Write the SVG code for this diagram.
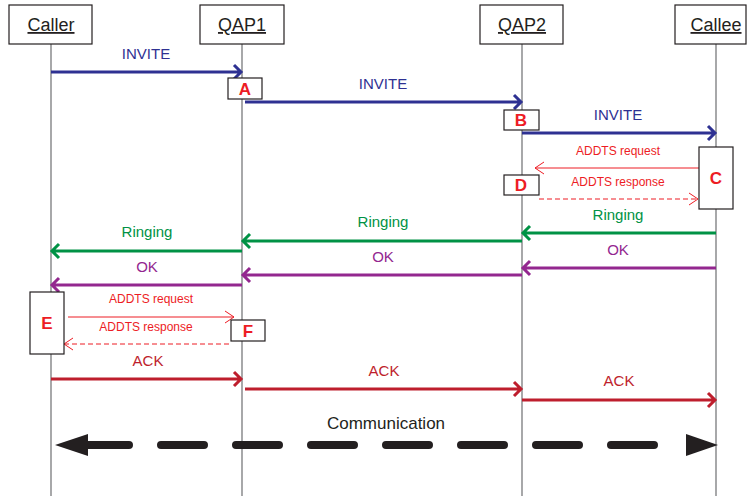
<svg xmlns="http://www.w3.org/2000/svg" width="748" height="496" viewBox="0 0 748 496">
<style>
text{font-family:"Liberation Sans",Arial,sans-serif;text-anchor:middle}
.hdr{fill:#fff;stroke:#231f20;stroke-width:1.2}
.ht{font-size:18px;text-decoration:underline;fill:#231f20}
.life{stroke:#6d6e71;stroke-width:1.2}
.box{fill:#fff;stroke:#231f20;stroke-width:1.2}
.lt{font-size:17px;font-weight:bold;fill:#ed1c24}
.inv{stroke:#2e3192;stroke-width:3;fill:none}
.ring{stroke:#009245;stroke-width:3;fill:none}
.ok{stroke:#93278f;stroke-width:3;fill:none}
.ack{stroke:#be1e2d;stroke-width:3;fill:none}
.add{stroke:#ed1c24;stroke-width:1;fill:none}
.dash{stroke-dasharray:5 3}
.tinv{font-size:15px;fill:#2e3192}
.tring{font-size:15px;fill:#009245}
.tok{font-size:15px;fill:#93278f}
.tack{font-size:15px;fill:#be1e2d}
.tadd{font-size:12px;fill:#ed1c24}
</style>
<g id="lifelines">
<line class="life" x1="51" y1="44" x2="51" y2="496"/>
<line class="life" x1="242" y1="44" x2="242" y2="496"/>
<line class="life" x1="522" y1="44" x2="522" y2="496"/>
<line class="life" x1="716" y1="44" x2="716" y2="496"/>
</g>
<g id="caller"><rect class="hdr" x="9" y="5" width="83" height="39"/><text class="ht" x="51" y="31">Caller</text></g>
<g id="qap1"><rect class="hdr" x="200" y="5" width="84" height="39"/><text class="ht" x="242" y="31">QAP1</text></g>
<g id="qap2"><rect class="hdr" x="480" y="5" width="83" height="39"/><text class="ht" x="522" y="31">QAP2</text></g>
<g id="callee"><rect class="hdr" x="675" y="5" width="71" height="39"/><text class="ht" x="716" y="31">Callee</text></g>
<g id="connectors">
<path class="inv" d="M51 72H241M234 65l7 7-7 7"/>
<path class="inv" d="M245 102H521M514 95l7 7-7 7"/>
<path class="inv" d="M522 133H715M708 126l7 7-7 7"/>
<path class="add" d="M699 168H535M544 162l-9 6 9 6"/>
<path class="add dash" d="M539 199H698"/>
<path class="add" d="M689 193l9 6-9 6"/>
<path class="ring" d="M716 233H523M530 226l-7 7 7 7"/>
<path class="ring" d="M522 241H243M250 234l-7 7 7 7"/>
<path class="ring" d="M242 251H52M59 244l-7 7 7 7"/>
<path class="ok" d="M716 268H523M530 261l-7 7 7 7"/>
<path class="ok" d="M522 275H243M250 268l-7 7 7 7"/>
<path class="ok" d="M242 285H52M59 278l-7 7 7 7"/>
<path class="add" d="M68 317H234M225 311l9 6-9 6"/>
<path class="add dash" d="M229 344H64"/>
<path class="add" d="M73 338l-9 6 9 6"/>
<path class="ack" d="M51 379H241M234 372l7 7-7 7"/>
<path class="ack" d="M245 389H521M514 382l7 7-7 7"/>
<path class="ack" d="M522 400H715M708 393l7 7-7 7"/>
<path d="M86 445H686" stroke="#231f20" stroke-width="8" stroke-linecap="round" stroke-dasharray="43 32" fill="none"/>
<polygon points="55,445 88,434 88,456" fill="#231f20"/>
<polygon points="718,445 686,434 686,456" fill="#231f20"/>
</g>
<g id="labels">
<text class="tinv" x="146" y="59">INVITE</text>
<text class="tinv" x="383" y="89">INVITE</text>
<text class="tinv" x="618" y="120">INVITE</text>
<text class="tadd" x="618" y="155">ADDTS request</text>
<text class="tadd" x="618" y="186">ADDTS response</text>
<text class="tring" x="618" y="220">Ringing</text>
<text class="tring" x="383" y="227">Ringing</text>
<text class="tring" x="147" y="237">Ringing</text>
<text class="tok" x="618" y="255">OK</text>
<text class="tok" x="383" y="262">OK</text>
<text class="tok" x="147" y="272">OK</text>
<text class="tadd" x="151" y="303">ADDTS request</text>
<text class="tadd" x="146" y="331">ADDTS response</text>
<text class="tack" x="148" y="366">ACK</text>
<text class="tack" x="384" y="376">ACK</text>
<text class="tack" x="619" y="386">ACK</text>
<text x="386" y="429" style="font-size:17px;fill:#231f20">Communication</text>
</g>
<g id="A"><rect class="box" x="228" y="78" width="34" height="21"/><text class="lt" x="245" y="95">A</text></g>
<g id="B"><rect class="box" x="504" y="110" width="35" height="20"/><text class="lt" x="521" y="126">B</text></g>
<g id="C"><rect class="box" x="699" y="147" width="34" height="62"/><text class="lt" x="716" y="184">C</text></g>
<g id="D"><rect class="box" x="504" y="175" width="35" height="20"/><text class="lt" x="521" y="191">D</text></g>
<g id="E"><rect class="box" x="30" y="292" width="34" height="62"/><text class="lt" x="47" y="329">E</text></g>
<g id="F"><rect class="box" x="231" y="320" width="34" height="21"/><text class="lt" x="248" y="337">F</text></g>
</svg>
